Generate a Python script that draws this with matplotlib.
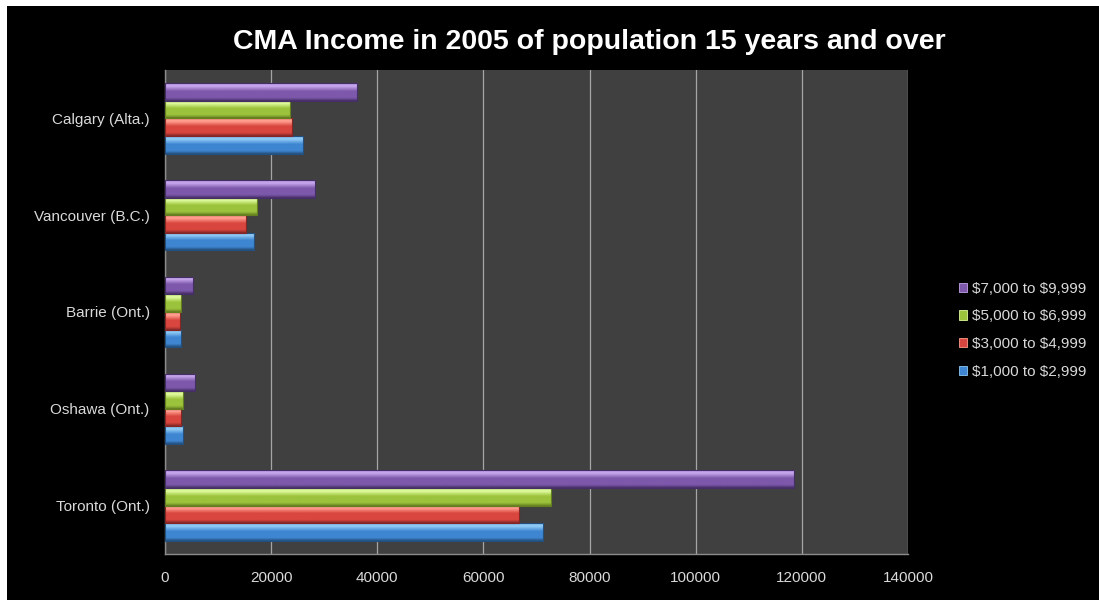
import numpy as np
import matplotlib

matplotlib.use("Agg", force=True)
import matplotlib.pyplot as plt
from matplotlib.colors import LinearSegmentedColormap
from matplotlib.patches import Patch, Rectangle

plt.rcParams["font.family"] = ["Liberation Sans", "DejaVu Sans"]

# CMA rows, bottom to top
cities = ["Toronto (Ont.)", "Oshawa (Ont.)", "Barrie (Ont.)", "Vancouver (B.C.)", "Calgary (Alta.)"]

income_1000_2999 = [71300, 3400, 3100, 16800, 26000]
income_3000_4999 = [66700, 3100, 2900, 15300, 24000]
income_5000_6999 = [72800, 3300, 3100, 17400, 23600]
income_7000_9999 = [118600, 5700, 5300, 28200, 36200]

series_labels = ["$1,000 to $2,999", "$3,000 to $4,999", "$5,000 to $6,999", "$7,000 to $9,999"]
x_ticks = [0, 20000, 40000, 60000, 80000, 100000, 120000, 140000]

# (bottom edge, body, highlight, top edge) for the bevelled bars
shades = [
    ("#24507f", "#3f86d2", "#8fcaf6", "#5a9ee0"),
    ("#862624", "#d9463f", "#ff9d8e", "#e86a60"),
    ("#647f20", "#9cc33c", "#def99c", "#b4d95a"),
    ("#452e66", "#7d58ab", "#c4a4ea", "#9a78c8"),
]

TEXT = "#d9d9d9"
W, H = 1099, 600

fig = plt.figure(figsize=(W / 100, H / 100), dpi=100, facecolor="white")
fig.patches.append(
    Rectangle((7 / W, 0), 1, 1 - 6 / H, transform=fig.transFigure, facecolor="black", edgecolor="none", zorder=-5)
)

ax = fig.add_axes([165 / W, 1 - 554 / H, (908 - 165) / W, (554 - 70) / H])
ax.set_facecolor("#404040")

data = [income_1000_2999, income_3000_4999, income_5000_6999, income_7000_9999]
y = np.arange(len(cities))
h = 0.182
grad = np.linspace(0, 1, 64).reshape(-1, 1)

for i, (vals, label, sh) in enumerate(zip(data, series_labels, shades)):
    offs = y + (i - 1.5) * h
    bars = ax.barh(offs, vals, height=h, color=sh[1], edgecolor="none", zorder=3)
    cmap = LinearSegmentedColormap.from_list(
        f"bevel{i}",
        [(0.0, sh[0]), (0.18, sh[1]), (0.55, sh[1]), (0.82, sh[2]), (0.92, sh[2]), (1.0, sh[3])],
    )
    for bar in bars:
        x0, y0 = bar.get_x(), bar.get_y()
        im = ax.imshow(
            grad,
            cmap=cmap,
            origin="lower",
            aspect="auto",
            interpolation="bilinear",
            extent=[x0, x0 + bar.get_width(), y0, y0 + bar.get_height()],
            zorder=4,
        )
        im.set_clip_path(bar)
        ax.add_patch(
            Rectangle((x0, y0), bar.get_width(), bar.get_height(), facecolor="none",
                      edgecolor=sh[0], linewidth=0.8, zorder=5)
        )

ax.set_xlim(0, 140000)
ax.set_ylim(-0.5, len(cities) - 0.5)
ax.set_xticks(x_ticks)
ax.set_xticklabels([str(t) for t in x_ticks])
ax.set_yticks(y)
ax.set_yticklabels(cities)
ax.tick_params(axis="both", length=0, colors=TEXT, labelsize=11)
ax.tick_params(axis="x", pad=12)
ax.tick_params(axis="y", pad=11)
ax.grid(True, axis="x", color="#a6a6a6", linewidth=0.9, zorder=1)
ax.set_axisbelow(True)
for side in ("top", "right"):
    ax.spines[side].set_visible(False)
for side in ("left", "bottom"):
    ax.spines[side].set_color("#8c8c8c")
    ax.spines[side].set_linewidth(1.0)

fig.text(589 / W, 1 - 42 / H, "CMA Income in 2005 of population 15 years and over",
         ha="center", va="center", color="white", fontsize=20.5, fontweight="bold")

handles = [Patch(facecolor=sh[1], edgecolor=sh[2], linewidth=0.6) for sh in shades]
leg = fig.legend(
    handles[::-1], [s.replace("$", r"\$") for s in series_labels[::-1]],
    loc="upper left", bbox_to_anchor=(945 / W, 1 - 268 / H),
    frameon=False, fontsize=11, labelcolor=TEXT,
    handlelength=0.55, handleheight=0.55, handletextpad=0.35, labelspacing=0.9,
)

fig.savefig("out.png", dpi=100, facecolor=fig.get_facecolor())
